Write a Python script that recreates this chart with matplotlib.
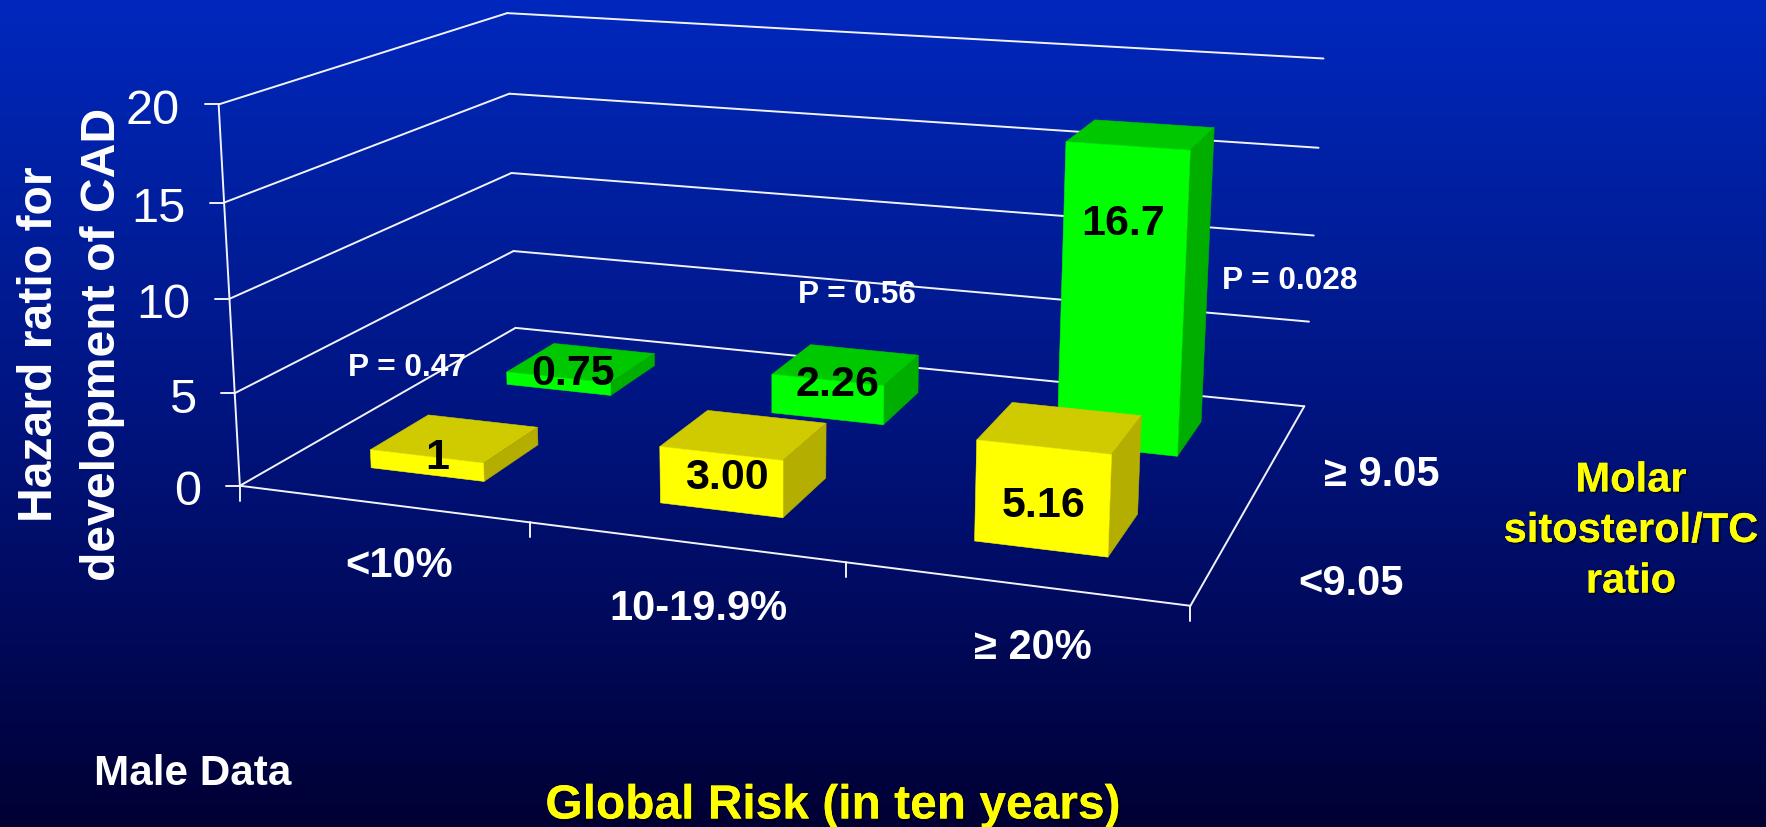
import numpy as np
import matplotlib
matplotlib.use("Agg")
import matplotlib.pyplot as plt
from matplotlib.patches import Polygon
from matplotlib.colors import LinearSegmentedColormap
import matplotlib.patheffects as pe

plt.rcParams['font.family'] = ['Liberation Sans', 'DejaVu Sans']

# Hazard ratios by global risk group and sitosterol/TC ratio
risk_groups = ['<10%', '10-19.9%', '≥ 20%']
ratio_groups = ['<9.05', '≥ 9.05']
low_ratio = [1, 3.00, 5.16]
high_ratio = [0.75, 2.26, 16.7]
low_labels = ['1', '3.00', '5.16']
high_labels = ['0.75', '2.26', '16.7']
p_values = ['P = 0.47', 'P = 0.56', 'P = 0.028']
z_ticks = [0, 5, 10, 15, 20]

W, H = 1766, 827
fig = plt.figure(figsize=(W / 100, H / 100), dpi=100)
ax = fig.add_axes([0, 0, 1, 1])
ax.set_xlim(0, W)
ax.set_ylim(H, 0)
ax.axis('off')

# Slide background: vertical gradient from royal blue to near-black navy
bg = LinearSegmentedColormap.from_list('bg', [(0, '#0028BE'), (0.25, '#001F9E'), (0.5, '#001480'),
                                              (0.75, '#000A5C'), (1, '#000033')])
ax.imshow(np.linspace(0, 1, 512)[:, None], cmap=bg, extent=[0, W, H, 0], aspect='auto', zorder=0)

# Perspective camera calibrated on the chart frame: (category, depth, value) -> pixel
frame = [((0, 0, 0), (240, 485.6)), ((3, 0, 0), (1190.6, 605.7)), ((3, 2, 0), (1304, 406)),
         ((0, 2, 0), (515, 328)), ((0, 0, 20), (218.7, 104.3)), ((0, 2, 20), (507, 13.2)),
         ((3, 2, 20), (1323, 58.6)), ((0, 2, 5), (514, 251)), ((0, 2, 10), (512, 173)),
         ((0, 2, 15), (509, 93.5)), ((3, 2, 5), (1309, 321.7)), ((3, 2, 10), (1314, 235.7)),
         ((3, 2, 15), (1319, 147.7)), ((1, 0, 0), (530, 523)), ((2, 0, 0), (845.4, 562))]
rows, rhs = [], []
for (x, y, z), (u, v) in frame:
    rows.append([x, y, z, 1, 0, 0, 0, 0, -u * x, -u * y, -u * z]); rhs.append(u)
    rows.append([0, 0, 0, 0, x, y, z, 1, -v * x, -v * y, -v * z]); rhs.append(v)
cam = np.append(np.linalg.lstsq(np.array(rows, float), np.array(rhs, float), rcond=None)[0], 1).reshape(3, 4)


def proj(x, y, z):
    h = cam @ np.array([x, y, z, 1.0])
    return h[:2] / h[2]


LINE = dict(color='#F2F2F8', lw=1.4, solid_capstyle='round', zorder=2)


def seg(a, b):
    pa, pb = proj(*a), proj(*b)
    ax.plot([pa[0], pb[0]], [pa[1], pb[1]], **LINE)


# Walls, floor and tick marks
for z in z_ticks:
    seg((0, 0, z), (0, 2, z))
    seg((0, 2, z), (3, 2, z))
    p = proj(0, 0, z)
    ax.plot([p[0] - 14, p[0]], [p[1], p[1]], **LINE)
    ax.text(p[0] - 39, p[1] + 7, str(z), color='white', fontsize=35, ha='right', va='center', zorder=6)
seg((0, 0, 0), (0, 0, 20))
seg((0, 0, 0), (3, 0, 0))
seg((3, 0, 0), (3, 2, 0))
for i in range(4):
    p = proj(i, 0, 0)
    ax.plot([p[0], p[0]], [p[1], p[1] + 15], **LINE)


def bar(cat, row, val, front, top, side, zo):
    x0, x1 = cat + 0.3, cat + 0.7
    y0, y1 = row + 0.3, row + 0.7
    faces = [([(x0, y0, val), (x1, y0, val), (x1, y1, val), (x0, y1, val)], top),
             ([(x1, y0, 0), (x1, y1, 0), (x1, y1, val), (x1, y0, val)], side),
             ([(x0, y0, 0), (x1, y0, 0), (x1, y0, val), (x0, y0, val)], front)]
    for pts, col in faces:
        ax.add_patch(Polygon([proj(*q) for q in pts], closed=True, fc=col, ec=col, lw=0.4, zorder=zo))


YEL = ('#FFFF00', '#D0CB00', '#B3AE00')
GRN = ('#00FF00', '#00C800', '#00AE00')
for i, v in enumerate(high_ratio):
    bar(i, 1, v, *GRN, zo=3)
for i, v in enumerate(low_ratio):
    bar(i, 0, v, *YEL, zo=4)

# Value labels sit on the front faces
label_font = dict(color='black', fontsize=31, fontweight='bold', ha='center', va='center', zorder=7)
for x, y, s in zip([437, 727, 1044], [458, 478, 506], low_labels):
    ax.text(x, y, s, **label_font)
for x, y, s in zip([573, 837, 1123], [374, 385, 224], high_labels):
    ax.text(x, y, s, **label_font)

# P values
p_font = dict(color='white', fontsize=22.8, fontweight='bold', ha='center', va='center', zorder=7)
for x, y, s in zip([407, 857, 1290], [368, 295, 281], p_values):
    ax.text(x, y, s, **p_font)

# Axis category labels
cat_font = dict(color='white', fontsize=30, fontweight='bold', ha='center', va='center', zorder=7)
for x, y, s in zip([399, 698, 1033], [566, 609, 648], risk_groups):
    ax.text(x, y, s, **cat_font)
ax.text(1351, 584, ratio_groups[0], **cat_font)
ax.text(1382, 475, ratio_groups[1], **cat_font)

ax.text(71, 344, 'Hazard ratio for\ndevelopment of CAD', color='white', fontsize=34.7, fontweight='bold',
        rotation=90, ha='center', va='center', linespacing=1.49, multialignment='center', zorder=7)

shadow = [pe.withSimplePatchShadow(offset=(1.5, -1.5), shadow_rgbFace='black', alpha=0.5), pe.Normal()]
ax.text(1631, 531, 'Molar\nsitosterol/TC\nratio', color='#FFFF00', fontsize=30, fontweight='bold',
        ha='center', va='center', linespacing=1.34, multialignment='center', zorder=7, path_effects=shadow)
ax.text(833, 806, 'Global Risk (in ten years)', color='#FFFF00', fontsize=34.5, fontweight='bold',
        ha='center', va='center', zorder=7, path_effects=shadow)
ax.text(193, 774, 'Male Data', color='white', fontsize=30.4, fontweight='bold', ha='center', va='center', zorder=7)

fig.savefig('out.png', dpi=100)
